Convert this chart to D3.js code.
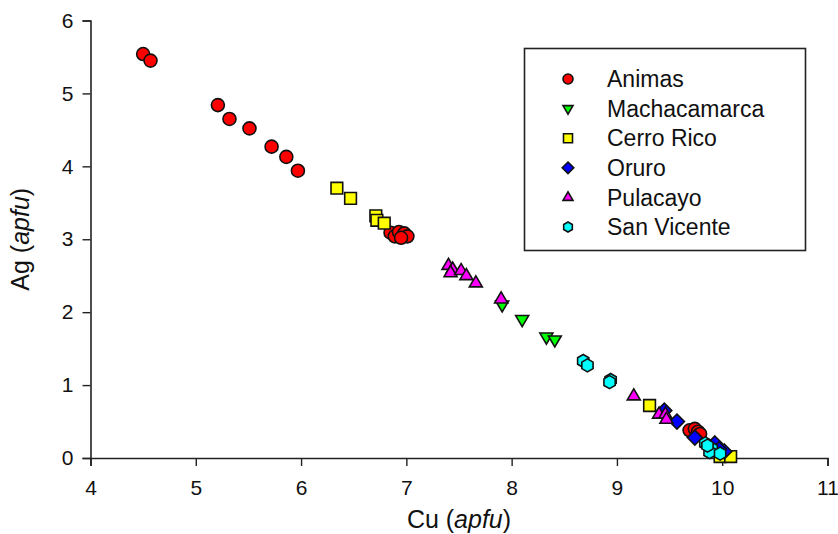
<!DOCTYPE html>
<html>
<head>
<meta charset="utf-8">
<script src="https://cdn.jsdelivr.net/npm/d3@7"></script>
<style>
  html, body { margin: 0; padding: 0; background: #fff; }
  text { font-family: "Liberation Sans", Arial, sans-serif; }
</style>
</head>
<body>
<div id="chart"></div>
<script>
// Series values (Cu vs Ag, apfu)
const animasCu = [4.50, 4.57, 5.21, 5.32, 5.51, 5.72, 5.86, 5.97, 6.85, 6.89, 6.93, 6.98, 7.01, 6.95, 9.69, 9.74, 9.77, 9.79];
const animasAg = [5.54, 5.45, 4.84, 4.65, 4.52, 4.27, 4.13, 3.94, 3.09, 3.04, 3.10, 3.08, 3.04, 3.02, 0.38, 0.40, 0.36, 0.33];
const machaCu = [7.91, 8.10, 8.33, 8.41, 9.95];
const machaAg = [2.10, 1.90, 1.66, 1.62, 0.05];
const cerroCu = [6.34, 6.47, 6.71, 6.72, 6.79, 9.31, 9.98, 10.08];
const cerroAg = [3.70, 3.56, 3.32, 3.26, 3.22, 0.72, 0.02, 0.02];
const oruroCu = [9.45, 9.57, 9.74, 9.93, 10.02, 9.97];
const oruroAg = [0.65, 0.50, 0.28, 0.20, 0.09, 0.12];
const pulaCu = [7.40, 7.44, 7.42, 7.52, 7.57, 7.66, 7.90, 9.16, 9.40, 9.46, 9.47];
const pulaAg = [2.64, 2.59, 2.54, 2.57, 2.50, 2.40, 2.18, 0.85, 0.60, 0.60, 0.53];
const sanCu = [8.68, 8.72, 8.94, 8.93, 9.84, 9.90, 9.88, 9.98, 9.86];
const sanAg = [1.33, 1.27, 1.07, 1.04, 0.20, 0.13, 0.08, 0.06, 0.17];

const seriesNames = ["Animas", "Machacamarca", "Cerro Rico", "Oruro", "Pulacayo", "San Vicente"];
const xTicks = [4, 5, 6, 7, 8, 9, 10, 11];
const yTicks = [0, 1, 2, 3, 4, 5, 6];

const width = 838, height = 534;
const margin = { left: 90.5, right: 10.5, top: 20.5, bottom: 76 };

const svg = d3.select("#chart").append("svg")
    .attr("width", width)
    .attr("height", height);

const x = d3.scaleLinear().domain([4, 11]).range([margin.left, width - margin.right]);
const y = d3.scaleLinear().domain([0, 6]).range([height - margin.bottom, margin.top]);

// custom symbols: r is roughly the half-width of the marker
function polygon(points) {
  return {
    draw(context, size) {
      const r = Math.sqrt(size) / 2;
      points.forEach(([px, py], i) => {
        if (i === 0) context.moveTo(px * r, py * r); else context.lineTo(px * r, py * r);
      });
      context.closePath();
    }
  };
}
const hexagon = polygon(d3.range(6).map(i => {
  const a = Math.PI / 6 + i * Math.PI / 3;
  return [Math.cos(a), Math.sin(a)];
}));
const triDown = polygon([[-1, -0.6], [1, -0.6], [0, 1.1]]);
const triUp = polygon([[-1, 0.6], [1, 0.6], [0, -1.1]]);
const diamond = polygon([[0, -1.15], [1.15, 0], [0, 1.15], [-1.15, 0]]);
const square = polygon([[-0.9, -0.9], [0.9, -0.9], [0.9, 0.9], [-0.9, 0.9]]);
const circle = {
  draw(context, size) {
    const r = Math.sqrt(size) / 2;
    context.moveTo(r, 0);
    context.arc(0, 0, r, 0, 2 * Math.PI);
  }
};

const series = [
  { cu: animasCu, ag: animasAg, color: "#ff0000", type: circle },
  { cu: machaCu, ag: machaAg, color: "#00ff00", type: triDown },
  { cu: cerroCu, ag: cerroAg, color: "#ffff00", type: square },
  { cu: oruroCu, ag: oruroAg, color: "#0000ff", type: diamond },
  { cu: pulaCu, ag: pulaAg, color: "#ff00ff", type: triUp },
  { cu: sanCu, ag: sanAg, color: "#00ffff", type: hexagon }
];

// axes
const xAxis = svg.append("g")
    .attr("transform", `translate(0,${y(0)})`)
    .call(d3.axisBottom(x).tickValues(xTicks).tickSize(8).tickPadding(14).tickFormat(d3.format("d")));
const yAxis = svg.append("g")
    .attr("transform", `translate(${x(4)},0)`)
    .call(d3.axisLeft(y).tickValues(yTicks).tickSize(8).tickPadding(9).tickFormat(d3.format("d")));

[xAxis, yAxis].forEach(a => {
  a.select(".domain").attr("stroke", "#222").attr("stroke-width", 1.6);
  a.selectAll(".tick line").attr("stroke", "#222").attr("stroke-width", 1.4);
  a.selectAll(".tick text").attr("font-size", 21).attr("fill", "#111")
    .attr("font-family", "'Liberation Sans', Arial, sans-serif");
});

// points
series.forEach(s => {
  const sym = d3.symbol().type(s.type).size(169);
  svg.append("g").selectAll("path")
    .data(s.cu.map((c, i) => [c, s.ag[i]]))
    .join("path")
    .attr("transform", d => `translate(${x(d[0])},${y(d[1])})`)
    .attr("d", sym)
    .attr("fill", s.color)
    .attr("stroke", "#111")
    .attr("stroke-width", 1.6);
});

// axis titles
const xt = svg.append("text")
    .attr("x", (x(4) + x(11)) / 2)
    .attr("y", 528)
    .attr("text-anchor", "middle")
    .attr("font-size", 25)
    .attr("fill", "#111");
xt.append("tspan").text("Cu (");
xt.append("tspan").attr("font-style", "italic").text("apfu");
xt.append("tspan").text(")");

const yt = svg.append("text")
    .attr("transform", `translate(29,${(y(0) + y(6)) / 2}) rotate(-90)`)
    .attr("text-anchor", "middle")
    .attr("font-size", 25)
    .attr("fill", "#111");
yt.append("tspan").text("Ag (");
yt.append("tspan").attr("font-style", "italic").text("apfu");
yt.append("tspan").text(")");

// legend
const legend = svg.append("g");
legend.append("rect")
    .attr("x", 524.5).attr("y", 48.5)
    .attr("width", 281).attr("height", 202)
    .attr("fill", "#fff").attr("stroke", "#222").attr("stroke-width", 1.6);

seriesNames.forEach((name, i) => {
  const s = series[i];
  const ly = 79 + i * 29.6;
  legend.append("path")
    .attr("transform", `translate(568,${ly})`)
    .attr("d", d3.symbol().type(s.type).size(100))
    .attr("fill", s.color).attr("stroke", "#111").attr("stroke-width", 1.6);
  legend.append("text")
    .attr("x", 607).attr("y", ly)
    .attr("dy", "0.36em")
    .attr("font-size", 23)
    .attr("fill", "#111")
    .text(name);
});
</script>
</body>
</html>
